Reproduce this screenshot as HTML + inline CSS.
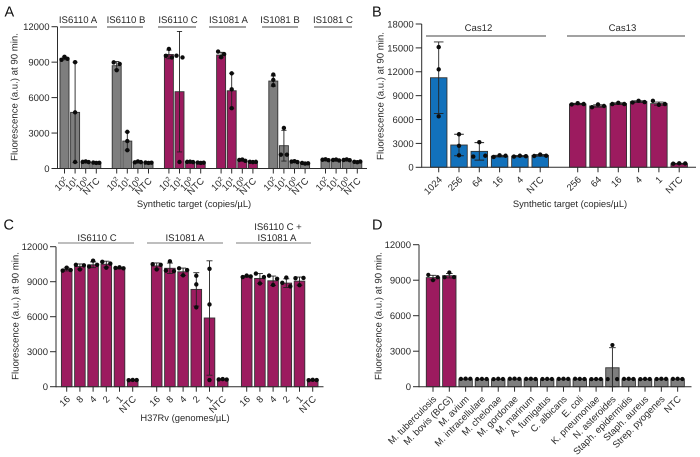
<!DOCTYPE html>
<html>
<head>
<meta charset="utf-8">
<title>Fluorescence at 90 min panels</title>
<style>
html,body{margin:0;padding:0;background:#fff}
svg{display:block;font-family:"Liberation Sans",Arial,sans-serif;text-rendering:geometricPrecision;filter:blur(0.3px)}
text{fill:#2a2a2a}
.bk{stroke:#444;stroke-width:1}
.bkc{stroke:#a8a8a8;stroke-width:1.4}
.gl{font-size:9.6px;text-anchor:middle}
.pl{font-size:14.500px;fill:#111}
</style>
</head>
<body>
<svg id="fig" width="700" height="457" viewBox="0 0 700 457" xmlns="http://www.w3.org/2000/svg">
  <rect width="700" height="457" fill="#fff"/>
  <text class="pl" x="4.500" y="16.500">A</text>
  <text class="pl" x="372" y="16.500">B</text>
  <text class="pl" x="3.500" y="229.500">C</text>
  <text class="pl" x="372" y="229.500">D</text>

  <g>
    <text class="gl" x="78" y="23">IS6110 A</text>
    <line class="bk" x1="60" x2="97" y1="27" y2="27"/>
    <text class="gl" x="126" y="23">IS6110 B</text>
    <line class="bk" x1="107" x2="143" y1="27" y2="27"/>
    <text class="gl" x="178" y="23">IS6110 C</text>
    <line class="bk" x1="158" x2="196" y1="27" y2="27"/>
    <text class="gl" x="228.500" y="23">IS1081 A</text>
    <line class="bk" x1="209" x2="246" y1="27" y2="27"/>
    <text class="gl" x="280" y="23">IS1081 B</text>
    <line class="bk" x1="262" x2="298" y1="27" y2="27"/>
    <text class="gl" x="333" y="23">IS1081 C</text>
    <line class="bk" x1="314" x2="352" y1="27" y2="27"/>
  </g>
  <g>
    <text class="gl" x="478.500" y="31">Cas12</text>
    <line class="bk" x1="426" x2="546" y1="36" y2="36"/>
    <text class="gl" x="622.500" y="31">Cas13</text>
    <line class="bk" x1="567" x2="685" y1="36" y2="36"/>
  </g>
  <g>
    <text class="gl" x="97" y="241">IS6110 C</text>
    <line class="bkc" x1="58" x2="134" y1="243" y2="243"/>
    <text class="gl" x="185" y="241">IS1081 A</text>
    <line class="bkc" x1="147" x2="223" y1="243" y2="243"/>
    <text class="gl" x="278" y="230">IS6110 C +</text>
    <text class="gl" x="277" y="241">IS1081 A</text>
    <line class="bkc" x1="236" x2="311" y1="243" y2="243"/>
  </g>
  <g id="plots"></g>
</svg>
<script>
// ---------- Panel A ----------
const categoriesA = ["10^2","10^1","10^0","NTC","10^2","10^1","10^0","NTC","10^2","10^1","10^0","NTC","10^2","10^1","10^0","NTC","10^2","10^1","10^0","NTC","10^2","10^1","10^0","NTC"];
const meansA = [9320,4750,550,480, 8700,2320,550,480, 9650,6500,550,480, 9600,6580,680,550, 7400,1930,560,430, 700,680,680,520];
const sdA = [120,4250,40,40, 350,770,40,40, 370,5100,40,40, 230,1480,50,40, 430,1300,50,40, 40,40,40,40];
const pointsA = [[9200,9450,9280],[9000,4750,550],[560,600,540],[500,470,480],
 [8980,8850,8320],[3100,2320,1550],[520,600,540],[500,470,490],
 [10120,9540,9400],[9550,9400,550],[560,580,540],[500,470,490],
 [9900,9420,9680],[8050,6700,5100],[720,760,650],[570,540,560],
 [7950,7500,7050],[3430,1170,1170],[590,620,540],[470,420,440],
 [740,780,700],[720,760,680],[720,770,700],[570,530,590]];
const ticksA = [0,3000,6000,9000,12000];

// ---------- Panel B ----------
const categoriesB = ["1024","256","64","16","4","NTC","256","64","16","4","1","NTC"];
const meansB = [11250,2800,2000,1400,1400,1500,7950,7700,8000,8250,8000,450];
const sdB = [4500,1350,1100,100,80,100,80,150,100,100,200,50];
const pointsB = [[15100,12300,6400],[4150,2700,1500],[3150,1350,1450],[1300,1500,1450],[1350,1450,1400],[1420,1600,1450],
 [7900,8050,7950],[7550,7900,7700],[7950,8100,7950],[8150,8350,8200],[8350,7850,7950],[450,500,480]];
const ticksB = [0,3000,6000,9000,12000,15000,18000];

// ---------- Panel C ----------
const categoriesC = ["16","8","4","2","1","NTC","16","8","4","2","1","NTC","16","8","4","2","1","NTC"];
const meansC = [10050,10300,10450,10500,10150,550, 10350,10150,9850,8340,5890,600, 9450,9280,9080,8880,9050,550];
const sdC = [130,220,250,260,60,30, 260,450,320,1430,4900,30, 60,420,400,370,350,30];
const pointsC = [[9950,10200,10000],[10450,10050,10400],[10800,10300,10450],[10700,10200,10550],[10180,10230,10150],[560,580,570],
 [10500,10050,10450],[10750,9950,9900],[10150,9550,10000],[9510,8770,6800],[10100,7050,570],[620,650,610],
 [9400,9520,9450],[9700,9400,8850],[9520,9250,8720],[9350,8900,8600],[9300,9320,8700],[560,590,570]];
const ticksC = [0,3000,6000,9000,12000];

// ---------- Panel D ----------
const categoriesD = ["M. tuberculosis","M. bovis (BCG)","M. avium","M. intracellulare","M. chelonae","M. gordonae","M. marinum","A. fumigatus","C. albicans","E. coli","K. pneumoniae","N. asteroides","Staph. epidermidis","Staph. aureus","Strep. pyogenes","NTC"];
const meansD = [9220,9380,650,640,640,650,650,640,650,650,640,1600,650,640,650,650];
const sdD = [190,190,20,20,20,20,20,20,20,20,20,1700,20,20,20,20];
const pointsD = [[9450,9000,9250],[9650,9250,9260],[660,680,670],[650,660,650],[640,670,650],[670,680,660],[660,670,650],[650,660,650],[660,670,660],[670,660,650],[640,650,650],[3520,640,640],[660,670,650],[640,660,650],[650,670,660],[660,670,650]];
const ticksD = [0,3000,6000,9000,12000];

const xTitleA = "Synthetic target (copies/µL)";
const xTitleC = "H37Rv (genomes/µL)";
const yTitle = "Fluorescence (a.u.) at 90 min.";

const MAGENTA = "#9c1b5f", GRAY = "#7e7e7e", BLUE = "#1271bb", INK = "#2b2b2b";
const SVGNS = "http://www.w3.org/2000/svg";
const FONT = 9.5;
const root = document.getElementById("plots");

function mk(tag, attrs, parent) {
  const n = document.createElementNS(SVGNS, tag);
  for (const k in attrs) n.setAttribute(k, attrs[k]);
  parent.appendChild(n);
  return n;
}

// beeswarm-style horizontal offsets for one bar's replicates
function swarm(vals, yf, spread) {
  const ys = vals.map(yf);
  const near = ys.map(function (y, i) {
    return ys.map(function (o, j) { return j !== i && Math.abs(o - y) < 3.6 ? j : -1; }).filter(function (j) { return j >= 0; });
  });
  return ys.map(function (y, i) {
    if (near[i].length === 0) return 0;
    if (near[i].length === 2 || near.every(function (n) { return n.length > 0; })) return (i - 1) * spread;
    return near[i][0] > i ? -spread : spread;
  });
}

function drawPanel(p) {
  const g = mk("g", {}, root);
  
  

  const yScale = function (v) { return p.y0 - (v / p.yMax) * (p.y0 - p.yTop); };
  const xScale = function (i) { return p.x0 + i * p.step + Math.floor(i / p.groupSize) * p.gap; };

  // bars, error bars, points
  p.cats.forEach(function (cat, i) {
    const cx = xScale(i), top = yScale(p.means[i]);
    const bar = mk("rect", {
      x: cx - p.barW / 2, y: top, width: p.barW, height: Math.max(0, p.y0 - top),
      fill: p.color(i), stroke: "#333", "stroke-width": 0.9
    }, g);
    
    

    const hi = yScale(p.means[i] + p.sd[i]), lo = yScale(Math.max(0, p.means[i] - p.sd[i]));
    const err = mk("path", {
      d: "M" + cx + " " + hi + "V" + lo +
         "M" + (cx - p.cap) + " " + hi + "H" + (cx + p.cap) +
         "M" + (cx - p.cap) + " " + lo + "H" + (cx + p.cap),
      fill: "none", stroke: "#222", "stroke-width": 0.9
    }, g);
    
    

    const offs = swarm(p.points[i], yScale, p.spread);
    p.points[i].forEach(function (v, k) {
      const dot = mk("circle", { cx: cx + offs[k], cy: yScale(v), r: p.r, fill: "#0c0c0c" }, g);
      
      
    });
  });

  // y axis
  const yAxis = mk("line", { x1: p.axisX, x2: p.axisX, y1: p.yTop, y2: p.y0 + 0.5, stroke: INK, "stroke-width": 1 }, g);
  
  
  p.ticks.forEach(function (t) {
    const y = yScale(t);
    const tick = mk("line", { x1: p.axisX - 6, x2: p.axisX, y1: y, y2: y, stroke: INK, "stroke-width": 1 }, g);
    
    
    const lab = mk("text", { x: p.axisX - 8, y: y + 3.4, "text-anchor": "end", "font-size": FONT }, g);
    lab.textContent = String(t);
    
    
  });

  // x axis
  const xAxis = mk("line", { x1: p.axisX, x2: p.axisEnd, y1: p.y0, y2: p.y0, stroke: INK, "stroke-width": 1 }, g);
  
  
  p.cats.forEach(function (cat, i) {
    const cx = xScale(i);
    const tick = mk("line", { x1: cx, x2: cx, y1: p.y0, y2: p.y0 + 5, stroke: INK, "stroke-width": 1 }, g);
    
    
    const ax = cx + 4, ay = p.y0 + 13;
    const lab = mk("text", { x: ax, y: ay, "text-anchor": "end", "font-size": FONT, transform: "rotate(-45 " + ax + " " + ay + ")" }, g);
    
    
    const parts = cat.split("^");
    lab.appendChild(document.createTextNode(parts[0]));
    if (parts[1]) {
      const sup = mk("tspan", { dy: -3.2, "font-size": 6.5 }, lab);
      sup.textContent = parts[1];
    }
  });

  // axis titles
  const yt = mk("text", { x: p.yTitleX, y: p.yTitleY, "text-anchor": "middle", "font-size": 9.65, transform: "rotate(-90 " + p.yTitleX + " " + p.yTitleY + ")" }, g);
  yt.textContent = yTitle;
  
  
  if (p.xTitle) {
    const xt = mk("text", { x: p.xTitleX, y: p.xTitleY, "text-anchor": "middle", "font-size": 9.4 }, g);
    xt.textContent = p.xTitle;
    
    
  }
}

drawPanel({
  name: "panel-a", cats: categoriesA, means: meansA, sd: sdA, points: pointsA, ticks: ticksA,
  yMax: 12000, y0: 168.5, yTop: 26.7, x0: 64.5, step: 10.6, groupSize: 4, gap: 9.8, barW: 9, cap: 2.6, spread: 3, r: 2.2,
  axisX: 57.5, axisEnd: 367, yTitleX: 17.5, yTitleY: 97, xTitle: xTitleA, xTitleX: 194, xTitleY: 207,
  color: function (i) { const gr = Math.floor(i / 4); return (gr === 2 || gr === 3) ? MAGENTA : GRAY; }
});
drawPanel({
  name: "panel-b", cats: categoriesB, means: meansB, sd: sdB, points: pointsB, ticks: ticksB,
  yMax: 18000, y0: 167.3, yTop: 24, x0: 438.7, step: 20.3, groupSize: 6, gap: 17.2, barW: 16.5, cap: 4.8, spread: 6, r: 2.2,
  axisX: 421.7, axisEnd: 696, yTitleX: 383.5, yTitleY: 96, xTitle: xTitleA, xTitleX: 570, xTitleY: 207,
  color: function (i) { return i < 6 ? BLUE : MAGENTA; }
});
drawPanel({
  name: "panel-c", cats: categoriesC, means: meansC, sd: sdC, points: pointsC, ticks: ticksC,
  yMax: 12000, y0: 386.7, yTop: 246.7, x0: 66.7, step: 13.2, groupSize: 6, gap: 10.8, barW: 10.6, cap: 3, spread: 4, r: 2.2,
  axisX: 56, axisEnd: 323.5, yTitleX: 18.5, yTitleY: 316, xTitle: xTitleC, xTitleX: 185, xTitleY: 421,
  color: function () { return MAGENTA; }
});
drawPanel({
  name: "panel-d", cats: categoriesD, means: meansD, sd: sdD, points: pointsD, ticks: ticksD,
  yMax: 12000, y0: 386.7, yTop: 244.7, x0: 433, step: 16.31, groupSize: 100, gap: 0, barW: 13.4, cap: 3.3, spread: 4.7, r: 2.1,
  axisX: 419, axisEnd: 691.5, yTitleX: 381.5, yTitleY: 316, xTitle: "", xTitleX: 0, xTitleY: 0,
  color: function (i) { return i < 2 ? MAGENTA : GRAY; }
});
</script>
</body>
</html>
